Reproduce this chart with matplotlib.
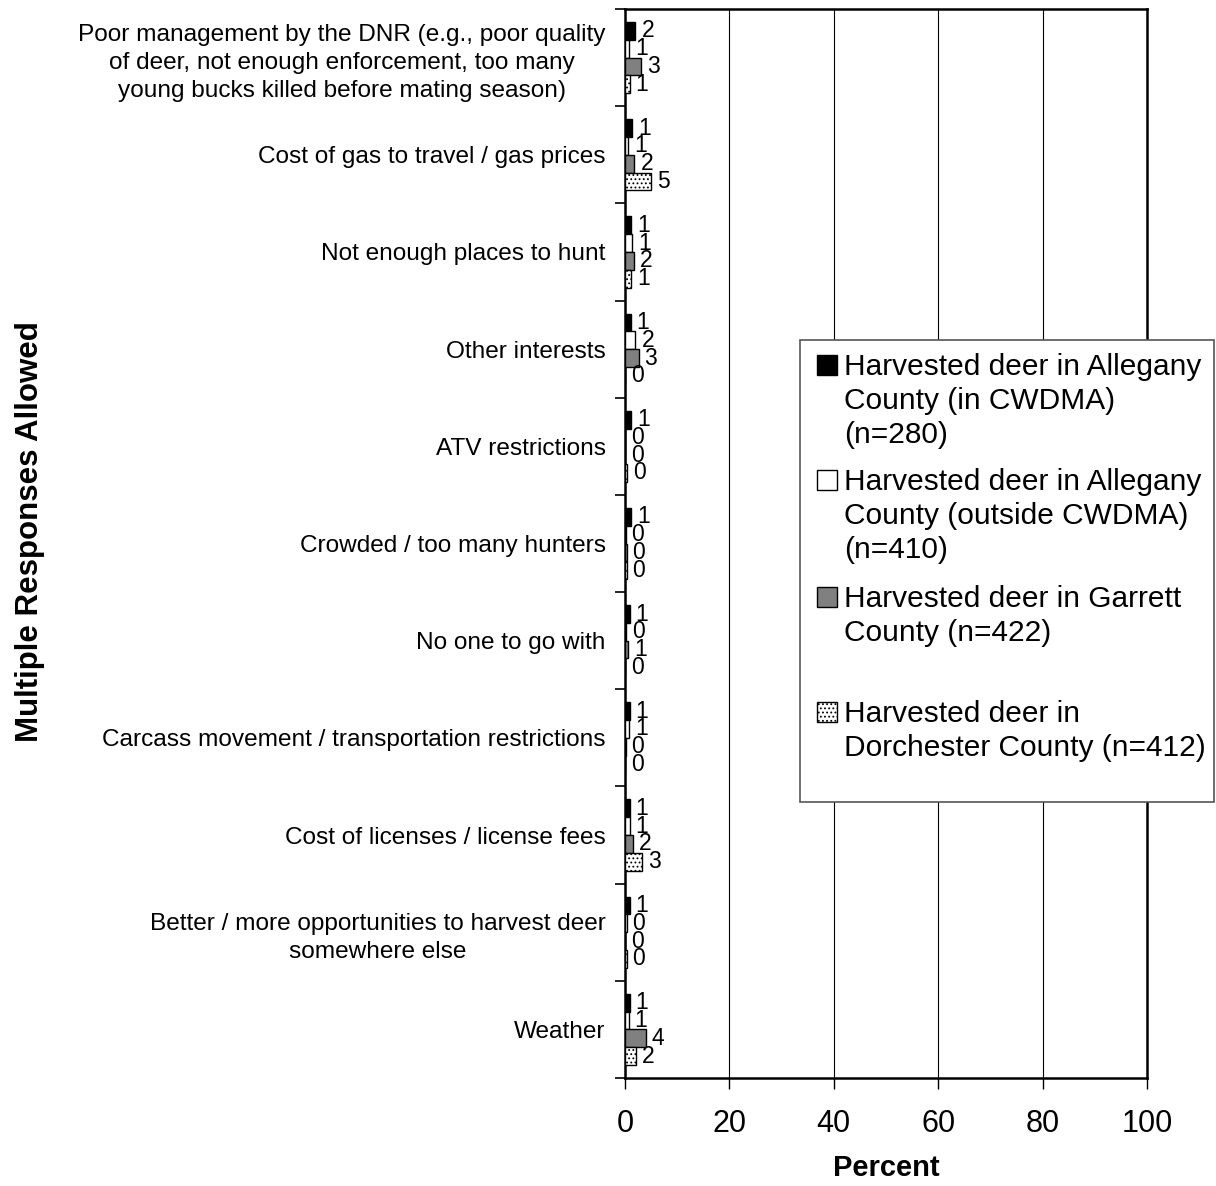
import numpy as np
import matplotlib
matplotlib.use("Agg")
import matplotlib.pyplot as plt
from matplotlib.patches import Rectangle

plt.rcParams['font.family'] = ['Liberation Sans', 'DejaVu Sans']
plt.rcParams['hatch.linewidth'] = 0.8

# categories (top to bottom)
categories = [
    "Poor management by the DNR (e.g., poor quality\nof deer, not enough enforcement, too many\nyoung bucks killed before mating season)",
    "Cost of gas to travel / gas prices",
    "Not enough places to hunt",
    "Other interests",
    "ATV restrictions",
    "Crowded / too many hunters",
    "No one to go with",
    "Carcass movement / transportation restrictions",
    "Cost of licenses / license fees",
    "Better / more opportunities to harvest deer\nsomewhere else",
    "Weather",
]

allegany_in = [2.0, 1.4, 1.2, 1.1, 1.2, 1.2, 0.9, 0.9, 0.9, 0.9, 0.9]
allegany_out = [0.8, 0.6, 1.3, 2.0, 0.0, 0.1, 0.2, 0.8, 0.9, 0.3, 0.7]
garrett = [3.0, 1.8, 1.7, 2.6, 0.0, 0.3, 0.6, 0.1, 1.6, 0.0, 4.0]
dorchester = [0.9, 5.0, 1.2, 0.0, 0.4, 0.3, 0.0, 0.0, 3.2, 0.3, 2.1]

series_names = [
    "Harvested deer in Allegany\nCounty (in CWDMA)\n(n=280)",
    "Harvested deer in Allegany\nCounty (outside CWDMA)\n(n=410)",
    "Harvested deer in Garrett\nCounty (n=422)",
    "Harvested deer in\nDorchester County (n=412)",
]
series = [allegany_in, allegany_out, garrett, dorchester]
colors = ["black", "white", "#808080", "white"]
hatches = [None, None, None, "...."]

W, H = 1216, 1186
fig = plt.figure(figsize=(W / 100, H / 100), dpi=100)
ax = fig.add_axes([625 / W, 1 - 1078 / H, (1147 - 625) / W, (1078 - 9) / H])

n = len(categories)
bar_h = 0.183
centers = np.arange(n)
for i, vals in enumerate(series):
    y = centers + (i - 1.5) * bar_h
    ax.barh(y, vals, height=bar_h, color=colors[i], edgecolor="black",
            linewidth=1.0, hatch=hatches[i], zorder=3)
    for yy, v in zip(y, vals):
        ax.annotate(str(int(v + 0.5)), (v, yy), xytext=(6, 0), textcoords="offset pixels",
                    ha="left", va="center", fontsize=16.5)

ax.set_ylim(n - 0.5, -0.5)
ax.set_xlim(0, 100)
ax.set_yticks(centers)
ax.set_yticklabels(categories, fontsize=17.6, ha="right", multialignment="center",
                   linespacing=1.36)
ax.set_yticks(np.arange(n + 1) - 0.5, minor=True)
ax.tick_params(axis="y", which="major", length=0, pad=14)
ax.tick_params(axis="y", which="minor", length=7, width=1.2, direction="out")
ax.set_xticks([0, 20, 40, 60, 80, 100])
ax.tick_params(axis="x", labelsize=22, length=8, width=1.0, pad=14)
ax.xaxis.grid(True, color="black", linewidth=0.8, zorder=0)
ax.set_axisbelow(True)
for s in ax.spines.values():
    s.set_linewidth(1.8)
    s.set_color("black")

fig.text(886 / W, 1 - 1168 / H, "Percent", ha="center", va="center",
         fontsize=21, fontweight="bold")
fig.text(30 / W, 1 - 532 / H, "Multiple Responses Allowed", ha="center", va="center",
         rotation=90, fontsize=22.5, fontweight="bold")

# legend drawn by hand to mimic the spacing
def fx(px):
    return px / W

def fy(py):
    return 1 - py / H

fig.add_artist(Rectangle((fx(800), fy(802)), fx(1214) - fx(800), fy(340) - fy(802),
                         transform=fig.transFigure, facecolor="white",
                         edgecolor="#555555", linewidth=1.2, zorder=5))
entry_y = [365, 480, 597, 712]
for i, name in enumerate(series_names):
    cy = entry_y[i]
    fig.add_artist(Rectangle((fx(817), fy(cy + 10)), fx(20), 20 / H,
                             transform=fig.transFigure, facecolor=colors[i],
                             edgecolor="black", linewidth=1.0, hatch=hatches[i], zorder=6))
    fig.text(fx(844), fy(cy - 12), name, ha="left", va="top", fontsize=21.5,
             linespacing=1.28, zorder=7)

fig.savefig("out.png", dpi=100)
